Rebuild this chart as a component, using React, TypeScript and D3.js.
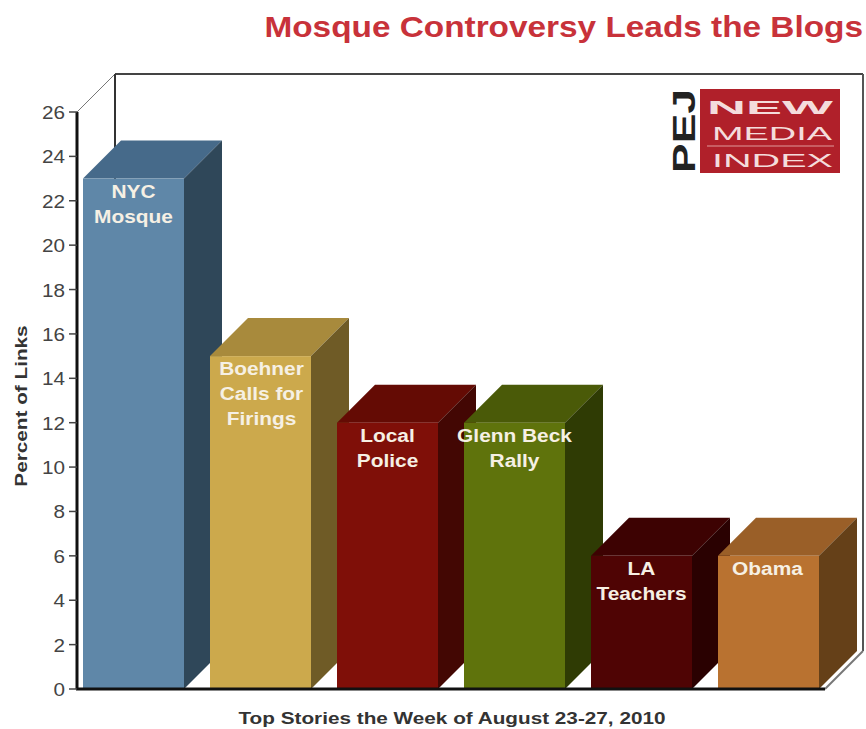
import React from "react";
import * as d3 from "d3";

const stories = ["NYC Mosque", "Boehner Calls for Firings", "Local Police", "Glenn Beck Rally", "LA Teachers", "Obama"];
const percents = [23, 15, 12, 12, 6, 6];
const labelLines = [["NYC", "Mosque"], ["Boehner", "Calls for", "Firings"], ["Local", "Police"], ["Glenn Beck", "Rally"], ["LA", "Teachers"], ["Obama"]];
const frontColors = ["#5f87a8", "#cca94c", "#7f0f08", "#5f730c", "#4f0404", "#b97230"];
const topColors = ["#466a8a", "#a88a3c", "#640b04", "#4a5a08", "#3d0202", "#9a5f28"];
const sideColors = ["#2f4759", "#6f5b26", "#430703", "#2f3b04", "#2a0101", "#654018"];
const yTicks = d3.range(0, 27, 2);

const W = 866, H = 729;
const axisX = 77, floorY = 689, topY = 112, plotRight = 825;
const depth = 38, barDepth = 38;
const font = "'Liberation Sans', Arial, sans-serif";

export default function App() {
  const y = d3.scaleLinear().domain([0, 26]).range([floorY, topY]);
  // Bars sit on a regular band grid along the floor of the box
  const x = d3.scaleBand<string>().domain(stories).range([70, 832]).paddingInner(26 / 127).paddingOuter(13 / 127);
  const bw = x.bandwidth();
  return (
    <svg width={W} height={H} viewBox={`0 0 ${W} ${H}`} style={{ position: "absolute", left: 0, top: 0, background: "#fff" }}>
      <text transform="translate(863,37) scale(1.15,1)" textAnchor="end" fontFamily={font} fontWeight="bold" fontSize={29} fill="#c8323a">Mosque Controversy Leads the Blogs</text>

      {/* Wall and floor outlines of the 3D box */}
      <path d={`M${axisX} ${topY}L${axisX + depth} ${topY - depth}`} fill="none" stroke="#777" strokeWidth={1} />
      <path d={`M${axisX + depth} ${topY - depth}H${plotRight + depth}`} fill="none" stroke="#444" strokeWidth={2} />
      <line x1={axisX + depth} x2={axisX + depth} y1={topY - depth} y2={floorY - depth} stroke="#333" strokeWidth={2} />
      <line x1={plotRight + depth} x2={plotRight + depth} y1={topY - depth} y2={floorY - depth} stroke="#555" strokeWidth={2} />
      <path d={`M${plotRight} ${floorY}L${plotRight + depth} ${floorY - depth}`} stroke="#777" strokeWidth={2} fill="none" />

      {stories.map((s, i) => {
        const x0 = x(s)!, x1 = x0 + bw, yt = y(percents[i]), d = barDepth;
        return (
          <g key={s}>
            <path d={`M${x0} ${yt}L${x0 + d} ${yt - d}H${x1 + d}L${x1} ${yt}Z`} fill={topColors[i]} />
            <path d={`M${x1} ${yt}L${x1 + d} ${yt - d}V${floorY - d}L${x1} ${floorY}Z`} fill={sideColors[i]} />
            <rect x={x0} y={yt} width={bw} height={floorY - yt} fill={frontColors[i]} />
          </g>
        );
      })}

      {stories.map((s, i) => (
        <g key={s} fontFamily={font} fontWeight="bold" fontSize={18} fill="#f6f0e4" textAnchor="middle">
          {labelLines[i].map((l, j) => (
            <text key={l} transform={`translate(${x(s)! + bw / 2 + (i === 1 ? 1 : 0) - (i === 5 ? 1 : 0)},${y(percents[i]) + 19 + j * 25}) scale(1.16,1)`}>{l}</text>
          ))}
        </g>
      ))}

      {/* Value axis */}
      <line x1={axisX} x2={axisX} y1={topY} y2={floorY} stroke="#111" strokeWidth={3} />
      <line x1={axisX - 1} x2={plotRight} y1={floorY} y2={floorY} stroke="#111" strokeWidth={3} />
      {yTicks.map(t => (
        <g key={t}>
          <line x1={axisX - 8} x2={axisX} y1={y(t)} y2={y(t)} stroke="#444" strokeWidth={1.5} />
          <text transform={`translate(${axisX - 12},${y(t) + 7}) scale(1.15,1)`} textAnchor="end" fontFamily={font} fontSize={18} fill="#444">{t}</text>
        </g>
      ))}
      <text transform="translate(27,406) rotate(-90) scale(1.22,1)" textAnchor="middle" fontFamily={font} fontWeight="bold" fontSize={17} fill="#333">Percent of Links</text>
      <text transform="translate(452,724) scale(1.22,1)" textAnchor="middle" fontFamily={font} fontWeight="bold" fontSize={17} fill="#333">Top Stories the Week of August 23-27, 2010</text>

      {/* PEJ New Media Index badge */}
      <rect x={700} y={89} width={140} height={84} fill="#b0202a" />
      <g fontFamily={font} fill="#f4dcdc">
        <text x={707} y={114} fontSize={18} fontWeight="bold" textLength={126} lengthAdjust="spacingAndGlyphs">NEW</text>
        <text x={712} y={140} fontSize={18} textLength={120} lengthAdjust="spacingAndGlyphs">MEDIA</text>
        <line x1={707} x2={834} y1={146} y2={146} stroke="#e09a9a" strokeWidth={1} />
        <text x={712} y={167} fontSize={18} textLength={121} lengthAdjust="spacingAndGlyphs">INDEX</text>
      </g>
      <text transform="translate(695,173) rotate(-90)" fontFamily={font} fontWeight="bold" fontSize={32} fill="#222" textLength={84} lengthAdjust="spacingAndGlyphs">PEJ</text>
    </svg>
  );
}
